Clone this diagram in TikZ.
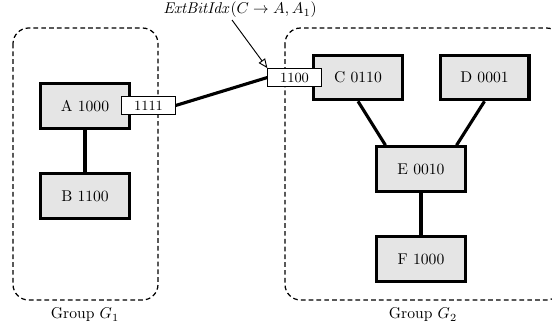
\documentclass[tikz,border=0pt]{standalone}
\usetikzlibrary{arrows.meta}
\begin{document}
\begin{tikzpicture}[x=.0225cm,y=-.0225cm,
  unit/.style={draw,line width=2pt,fill=black!10,minimum width=2cm,minimum height=1cm},
  port/.style={draw,semithick,fill=white,font=\small,minimum width=1.2cm,minimum height=.4cm,inner sep=1pt},
  group/.style={draw,line width=.8pt,dash pattern=on 3pt off 2pt,rounded corners=10pt},
  link/.style={line width=2pt}]
\clip (0,0) rectangle (552,331);
% groups
\draw[group] (13,28) rectangle (158,300);
\draw[group] (285,28) rectangle (562,300);
\path (85,315) node (g1) {Group $G_1$} (423,315) node (g2) {Group $G_2$};
% units
\path (85,106) node[unit] (A) {A 1000} (85,196) node[unit] (B) {B 1100}
(358,77.5) node[unit] (C) {C 0110} (484.5,77.5) node[unit] (D) {D 0001}
(421,169) node[unit] (E) {E 0010} (421,259) node[unit] (F) {F 1000};
\foreach \u/\v in {A/B, E/F} \draw[link] (\u) -- (\v);
\draw[link] (C.south) -- ([xshift=-.8cm]E.north);
\draw[link] (D.south) -- ([xshift=.8cm]E.north);
% ports
\path (148.5,105.5) node[port] (pA) {1111} (294.5,77.5) node[port] (pC) {1100};
\draw[link] (pA.east) -- (pC.west);
\node (lbl) at (240,10) {$\mathit{ExtBitIdx}(C\rightarrow A, A_1)$};
\draw[semithick,-{Triangle[open,length=6pt,width=5pt]}] (232,20) -- (pC.north west);
\end{tikzpicture}
\end{document}
